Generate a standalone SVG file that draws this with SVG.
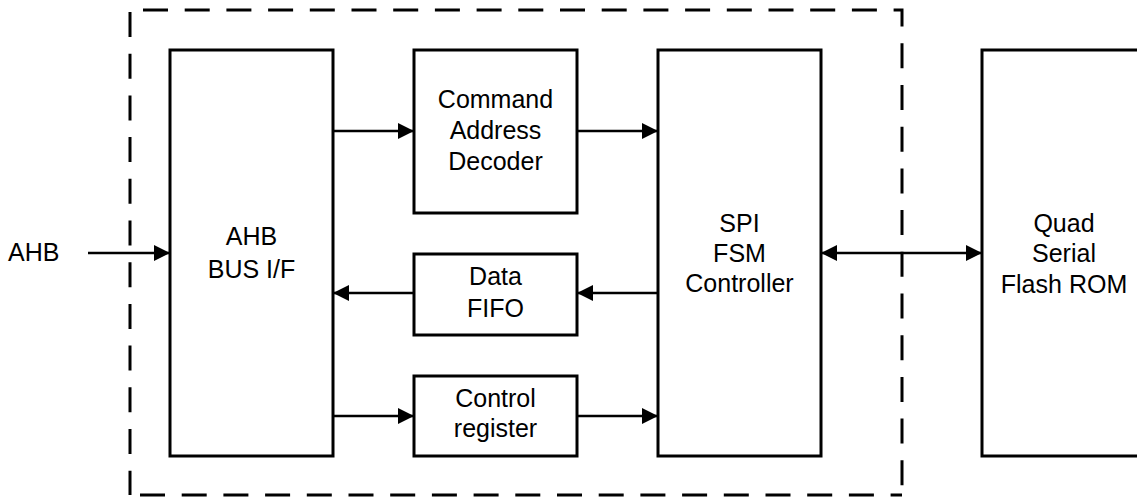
<svg xmlns="http://www.w3.org/2000/svg" width="1137" height="497" viewBox="0 0 1137 497">
<style>
.box{fill:#fff;stroke:#000;stroke-width:3}
.lbl{font-family:"Liberation Sans",Arial,sans-serif;font-size:25px;fill:#000;text-anchor:middle}
.con{stroke:#000;stroke-width:2.6;fill:none}
.dash{stroke:#000;stroke-width:3;fill:none;stroke-dasharray:25 16.7}
</style>
<defs>
<marker id="ah" markerUnits="userSpaceOnUse" markerWidth="16" markerHeight="16" refX="16" refY="8" orient="auto-start-reverse" viewBox="0 0 16 16">
<path d="M0,0 L16,8 L0,16 z" fill="#000"/>
</marker>
</defs>
<rect width="1137" height="497" fill="#fff"/>
<g id="boundary">
<path class="dash" d="M143,10 H902 V495"/>
<path class="dash" d="M140,495 H902"/>
<path class="dash" d="M130,12 V495"/>
</g>
<g id="ahb-bus">
<rect class="box" x="170" y="50" width="163" height="406"/>
<text class="lbl" x="251.5" y="245">AHB</text>
<text class="lbl" x="251.5" y="278">BUS I/F</text>
</g>
<g id="cmd-decoder">
<rect class="box" x="414" y="50" width="163" height="163"/>
<text class="lbl" x="495.5" y="108">Command</text>
<text class="lbl" x="495.5" y="139">Address</text>
<text class="lbl" x="495.5" y="170">Decoder</text>
</g>
<g id="data-fifo">
<rect class="box" x="414" y="254" width="163" height="81"/>
<text class="lbl" x="495.5" y="285">Data</text>
<text class="lbl" x="495.5" y="317">FIFO</text>
</g>
<g id="control-register">
<rect class="box" x="414" y="376" width="163" height="80"/>
<text class="lbl" x="495.5" y="407">Control</text>
<text class="lbl" x="495.5" y="437">register</text>
</g>
<g id="spi-fsm">
<rect class="box" x="658" y="50" width="163" height="406"/>
<text class="lbl" x="739.5" y="232">SPI</text>
<text class="lbl" x="739.5" y="262">FSM</text>
<text class="lbl" x="739.5" y="292">Controller</text>
</g>
<g id="flash-rom">
<rect class="box" x="982" y="50" width="170" height="406"/>
<text class="lbl" x="1064" y="232">Quad</text>
<text class="lbl" x="1064" y="262">Serial</text>
<text class="lbl" x="1064" y="293">Flash ROM</text>
</g>
<g id="ahb-label">
<text class="lbl" x="8" y="261" style="text-anchor:start">AHB</text>
</g>
<g id="connectors">
<line class="con" x1="88" y1="253" x2="170" y2="253" marker-end="url(#ah)"/>
<line class="con" x1="333" y1="131" x2="414" y2="131" marker-end="url(#ah)"/>
<line class="con" x1="577" y1="131" x2="658" y2="131" marker-end="url(#ah)"/>
<line class="con" x1="658" y1="293" x2="577" y2="293" marker-end="url(#ah)"/>
<line class="con" x1="414" y1="293" x2="333" y2="293" marker-end="url(#ah)"/>
<line class="con" x1="333" y1="416" x2="414" y2="416" marker-end="url(#ah)"/>
<line class="con" x1="577" y1="416" x2="658" y2="416" marker-end="url(#ah)"/>
<line class="con" x1="821" y1="253" x2="982" y2="253" marker-start="url(#ah)" marker-end="url(#ah)"/>
</g>
</svg>
